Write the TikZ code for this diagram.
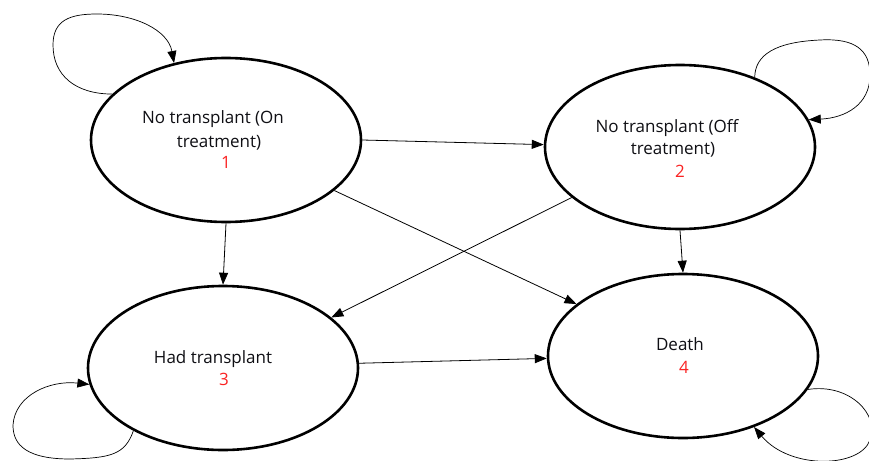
\documentclass[tikz,border=0pt]{standalone}
\usepackage{fontspec}
\setmainfont{Open Sans}
\usetikzlibrary{arrows.meta,shapes.geometric}
\definecolor{txt}{RGB}{15,15,20}
\definecolor{num}{RGB}{250,35,35}
\begin{document}
\begin{tikzpicture}[x=1pt,y=-1pt,
  stbox/.style={draw=black, line width=2.6pt, ellipse, minimum width=270pt, minimum height=164pt, inner sep=0pt},
  lbl/.style={anchor=base, text=txt, font=\fontsize{17}{20}\selectfont, inner sep=0pt},
  numlbl/.style={lbl, text=num},
  arr/.style={-{Triangle[length=12pt,width=9pt]}, line width=0.8pt},
  selfloop/.style={-{Triangle[length=12pt,width=9pt]}, line width=0.7pt}]
\clip (0,0) rectangle (869,460);
\fill[white] (0,0) rectangle (869,460);
% states
\node[stbox] (n1) at (226,140) {};
\node[stbox] (n2) at (680,147) {};
\node[stbox] (n3) at (223,368) {};
\node[stbox] (n4) at (683,356) {};
% labels
\node[lbl] (t1a) at (213,123) {No transplant (On};
\node[lbl] (t1b) at (219,147) {treatment)};
\node[numlbl] (t1c) at (226,168) {1};
\node[lbl] (t2a) at (667,132) {No transplant (Off};
\node[lbl] (t2b) at (673,154) {treatment)};
\node[numlbl] (t2c) at (680,177) {2};
\node[lbl] (t3a) at (213,363) {Had transplant};
\node[numlbl] (t3b) at (224,385) {3};
\node[lbl] (t4a) at (680,350) {Death};
\node[numlbl] (t4b) at (684,373) {4};
% transitions
\draw[arr] (n1.0) -- (n2.179);
\draw[arr] (n1.south) -- (n3.north);
\draw[arr] (n1.-25.5) -- (n4.154);
\draw[arr] (n2.205.5) -- (n3.25.5);
\draw[arr] (n2.south) -- (n4.north);
\draw[arr] (n3.2) -- (n4.181);
% self loops
\draw[selfloop] (n1.158) .. controls (75,94) and (53,75) .. (53,45)
  .. controls (53,20) and (70,14) .. (97,14)
  .. controls (135,14) and (168,30) .. (n1.124);
\draw[selfloop] (n2.43) .. controls (755,55) and (775,42) .. (820,40)
  .. controls (855,38) and (870,50) .. (870,75)
  .. controls (870,105) and (845,118) .. (n2.12);
\draw[selfloop] (n3.215) .. controls (125,455) and (110,458) .. (70,459)
  .. controls (20,459) and (13,440) .. (13,425)
  .. controls (15,395) and (50,380) .. (n3.187);
\draw[selfloop] (n4.345) .. controls (850,383) and (880,415) .. (870,440)
  .. controls (860,468) and (790,470) .. (n4.315);
\end{tikzpicture}
\end{document}
